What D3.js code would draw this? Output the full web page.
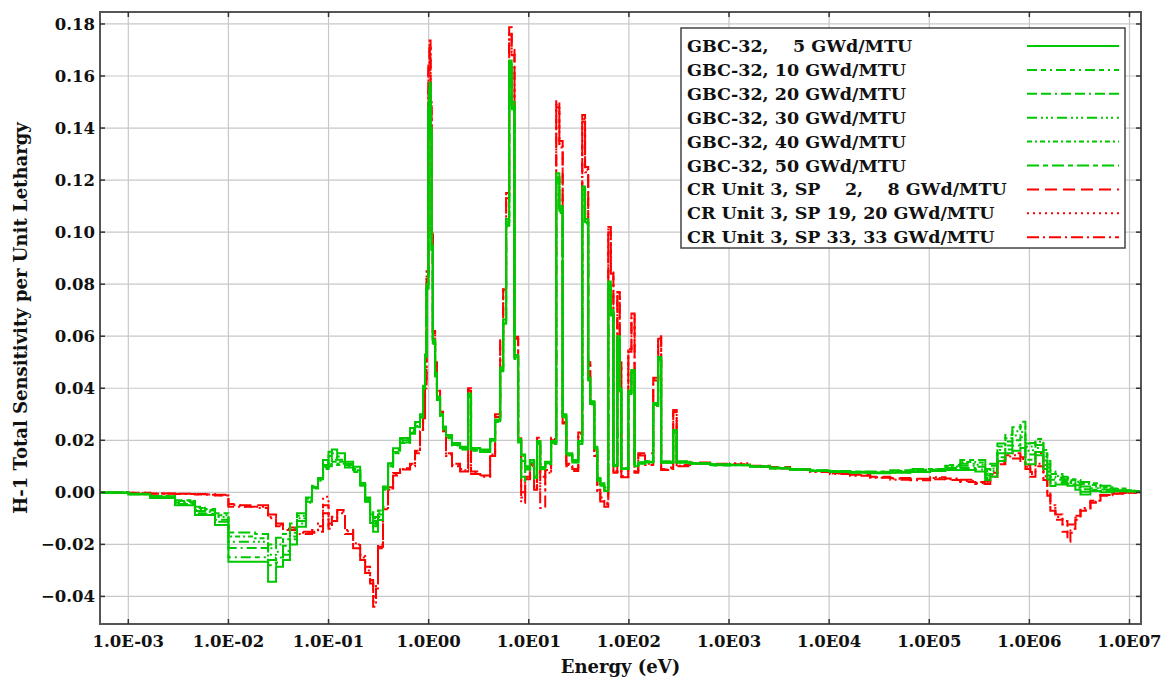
<!DOCTYPE html>
<html>
<head>
<meta charset="utf-8">
<script src="https://cdn.jsdelivr.net/npm/d3@7"></script>
<style>
  body { margin: 0; background: #ffffff; }
  svg text { font-family: "DejaVu Serif", serif; font-weight: bold; fill: #111; }
</style>
</head>
<body>
<svg id="chart" width="1164" height="681"></svg>
<script>
// Multigroup energy boundaries (eV), ascending; group i spans [groupEdges[i], groupEdges[i+1]]
const groupEdges = [
  1e-5, 1e-3, 1.65e-3, 2.93e-3, 4.63e-3, 5.83e-3, 7.35e-3,
  1.0e-2, 1.31e-2, 1.85e-2, 2.49e-2, 2.99e-2, 3.51e-2, 4.12e-2, 4.84e-2, 5.96e-2, 6.84e-2, 7.85e-2, 8.81e-2,
  0.1, 0.108, 0.122, 0.146, 0.176, 0.207, 0.232, 0.260, 0.279, 0.298, 0.312, 0.350, 0.393, 0.441, 0.518, 0.652, 0.731, 0.820, 0.879, 0.92, 0.953,
  0.993, 1.02, 1.045, 1.07, 1.1, 1.16, 1.21, 1.30, 1.39, 1.49, 1.71, 2.06, 2.48, 2.65, 3.27, 4.11, 4.61, 5.18, 5.55, 5.94, 6.37, 6.75, 7.2, 7.83, 8.39, 9.2,
  10.3, 11.3, 12.1, 13.0, 14.6, 16.7, 18.8, 20.2, 21.8, 23.7, 27.2, 31.2, 34.2, 36.5, 39.2, 41.1, 45.1, 48.3, 51.8, 56.8, 62.2, 66, 70, 76.6, 81, 84,
  98.6, 106, 114, 124, 145, 175, 196, 210, 247, 277, 300, 409, 648,
  1026, 1620, 2570, 4070, 6450, 1.02e4, 1.62e4, 2.57e4, 4.08e4, 6.46e4,
  1.02e5, 1.45e5, 2.04e5, 2.88e5, 3.63e5, 4.07e5, 4.79e5, 5.75e5, 6.76e5, 8.13e5, 9.12e5, 1.02e6, 1.15e6, 1.38e6, 1.51e6, 1.62e6, 1.82e6, 2.14e6, 2.40e6, 2.57e6, 2.88e6, 3.24e6, 4.07e6, 5.13e6, 6.76e6, 9.12e6, 1.15e7,
  2.0e7
];

// H-1 total sensitivity per unit lethargy, one value per group
const gbc5 = [
  -0.0002, -0.0008, -0.0022, -0.0050, -0.0087, -0.0087, -0.0126,
  -0.0267, -0.0267, -0.0267, -0.0344, -0.0286, -0.0260, -0.0200, -0.0132, -0.0036, 0.0020, 0.0055, 0.0124,
  0.0156, 0.0165, 0.0150, 0.0118, 0.0098, 0.0036, -0.0036, -0.0118, -0.0151, -0.0151, -0.0106, 0.0020, 0.0112, 0.0169, 0.0209, 0.0247, 0.0270, 0.0300, 0.0410, 0.0530, 0.0800,
  0.1500, 0.1575, 0.1400, 0.0950, 0.0586, 0.0460, 0.0368, 0.0300, 0.0253, 0.0220, 0.0190, 0.0175, 0.0380, 0.0170, 0.0165, 0.0205, 0.0280, 0.0480, 0.0664, 0.1050, 0.1660, 0.1500, 0.0528, 0.0205, 0.0145, 0.0100,
  0.0124, 0.0060, 0.0197, 0.0097, 0.0118, 0.0197, 0.1226, 0.1100, 0.0300, 0.0150, 0.0124, 0.0197, 0.1175, 0.1050, 0.0440, 0.0350, 0.0175, 0.0055, 0.0035, 0.0005, 0.0810, 0.0700, 0.0105, 0.0600, 0.0400, 0.0090,
  0.0390, 0.0470, 0.0100, 0.0110, 0.0115, 0.0343, 0.0520, 0.0114, 0.0114, 0.0240, 0.0114, 0.0112, 0.0108,
  0.0104, 0.0098, 0.0092, 0.0087, 0.0082, 0.0078, 0.0075, 0.0073, 0.0075, 0.0078,
  0.0082, 0.0086, 0.0086, 0.0080, 0.0047, 0.0060, 0.0120, 0.0150, 0.0160, 0.0170, 0.0108, 0.0108, 0.0143, 0.0090, 0.0050, 0.0024, 0.0030, 0.0030, 0.0025, 0.0025, 0.0010, -0.0008, 0.0005, 0.0000, 0.0004, 0.0003, 0.0003
];
const gbc10 = [
  -0.0002, -0.0007, -0.0020, -0.0045, -0.0080, -0.0082, -0.0113,
  -0.0249, -0.0249, -0.0249, -0.0280, -0.0270, -0.0240, -0.0180, -0.0120, -0.0040, 0.0015, 0.0050, 0.0115,
  0.0140, 0.0150, 0.0138, 0.0110, 0.0090, 0.0030, -0.0030, -0.0100, -0.0130, -0.0135, -0.0095, 0.0022, 0.0110, 0.0165, 0.0205, 0.0240, 0.0265, 0.0295, 0.0405, 0.0525, 0.0790,
  0.1490, 0.1565, 0.1390, 0.0945, 0.0580, 0.0455, 0.0365, 0.0298, 0.0250, 0.0218, 0.0188, 0.0172, 0.0375, 0.0168, 0.0162, 0.0202, 0.0278, 0.0475, 0.0660, 0.1040, 0.1650, 0.1490, 0.0525, 0.0200, 0.0140, 0.0098,
  0.0122, 0.0058, 0.0195, 0.0095, 0.0116, 0.0195, 0.1218, 0.1092, 0.0298, 0.0148, 0.0122, 0.0195, 0.1168, 0.1045, 0.0438, 0.0348, 0.0172, 0.0052, 0.0032, 0.0010, 0.0805, 0.0695, 0.0104, 0.0596, 0.0398, 0.0090,
  0.0388, 0.0468, 0.0102, 0.0112, 0.0116, 0.0340, 0.0518, 0.0115, 0.0115, 0.0238, 0.0115, 0.0112, 0.0107,
  0.0104, 0.0098, 0.0093, 0.0088, 0.0083, 0.0079, 0.0076, 0.0074, 0.0076, 0.0080,
  0.0084, 0.0090, 0.0094, 0.0088, 0.0055, 0.0070, 0.0135, 0.0165, 0.0180, 0.0190, 0.0125, 0.0125, 0.0155, 0.0105, 0.0065, 0.0035, 0.0038, 0.0036, 0.0032, 0.0030, 0.0018, 0.0002, 0.0010, 0.0005, 0.0006, 0.0004, 0.0003
];
const gbc20 = [
  -0.0001, -0.0006, -0.0018, -0.0040, -0.0072, -0.0075, -0.0105,
  -0.0214, -0.0214, -0.0214, -0.0260, -0.0250, -0.0225, -0.0170, -0.0110, -0.0035, 0.0018, 0.0045, 0.0105,
  0.0128, 0.0135, 0.0125, 0.0105, 0.0085, 0.0025, -0.0035, -0.0095, -0.0120, -0.0125, -0.0085, 0.0018, 0.0105, 0.0160, 0.0200, 0.0235, 0.0260, 0.0290, 0.0400, 0.0520, 0.0785,
  0.1480, 0.1555, 0.1385, 0.0940, 0.0578, 0.0452, 0.0362, 0.0295, 0.0248, 0.0215, 0.0185, 0.0170, 0.0372, 0.0165, 0.0160, 0.0200, 0.0275, 0.0472, 0.0655, 0.1035, 0.1645, 0.1485, 0.0520, 0.0198, 0.0120, 0.0095,
  0.0120, 0.0056, 0.0192, 0.0093, 0.0114, 0.0192, 0.1212, 0.1088, 0.0295, 0.0146, 0.0120, 0.0192, 0.1162, 0.1040, 0.0435, 0.0345, 0.0170, 0.0050, 0.0030, 0.0015, 0.0800, 0.0690, 0.0103, 0.0592, 0.0395, 0.0091,
  0.0385, 0.0465, 0.0104, 0.0113, 0.0117, 0.0338, 0.0515, 0.0116, 0.0116, 0.0236, 0.0116, 0.0111, 0.0106,
  0.0105, 0.0099, 0.0093, 0.0088, 0.0083, 0.0080, 0.0077, 0.0075, 0.0078, 0.0082,
  0.0086, 0.0094, 0.0102, 0.0098, 0.0065, 0.0082, 0.0150, 0.0180, 0.0200, 0.0212, 0.0145, 0.0145, 0.0170, 0.0122, 0.0080, 0.0048, 0.0048, 0.0044, 0.0040, 0.0036, 0.0027, 0.0012, 0.0016, 0.0011, 0.0008, 0.0005, 0.0003
];
const gbc30 = [
  -0.0001, -0.0006, -0.0016, -0.0036, -0.0067, -0.0070, -0.0095,
  -0.0190, -0.0190, -0.0190, -0.0240, -0.0228, -0.0205, -0.0155, -0.0100, -0.0030, 0.0020, 0.0048, 0.0100,
  0.0118, 0.0125, 0.0118, 0.0100, 0.0082, 0.0030, -0.0025, -0.0085, -0.0110, -0.0115, -0.0080, 0.0015, 0.0102, 0.0155, 0.0195, 0.0230, 0.0255, 0.0288, 0.0398, 0.0518, 0.0780,
  0.1470, 0.1548, 0.1380, 0.0935, 0.0575, 0.0450, 0.0360, 0.0292, 0.0245, 0.0212, 0.0183, 0.0168, 0.0370, 0.0163, 0.0158, 0.0198, 0.0272, 0.0470, 0.0652, 0.1030, 0.1640, 0.1480, 0.0518, 0.0195, 0.0090, 0.0092,
  0.0118, 0.0055, 0.0190, 0.0092, 0.0112, 0.0190, 0.1206, 0.1082, 0.0292, 0.0145, 0.0118, 0.0190, 0.1156, 0.1036, 0.0432, 0.0342, 0.0168, 0.0048, 0.0028, 0.0018, 0.0796, 0.0686, 0.0102, 0.0590, 0.0392, 0.0092,
  0.0382, 0.0462, 0.0105, 0.0114, 0.0118, 0.0336, 0.0512, 0.0117, 0.0117, 0.0234, 0.0117, 0.0111, 0.0105,
  0.0105, 0.0099, 0.0094, 0.0089, 0.0084, 0.0080, 0.0078, 0.0076, 0.0080, 0.0084,
  0.0087, 0.0098, 0.0110, 0.0106, 0.0072, 0.0092, 0.0163, 0.0195, 0.0218, 0.0232, 0.0160, 0.0162, 0.0182, 0.0138, 0.0095, 0.0060, 0.0056, 0.0050, 0.0046, 0.0042, 0.0035, 0.0022, 0.0022, 0.0016, 0.0011, 0.0006, 0.0004
];
const gbc40 = [
  -0.0001, -0.0005, -0.0015, -0.0033, -0.0060, -0.0068, -0.0088,
  -0.0170, -0.0170, -0.0176, -0.0215, -0.0200, -0.0180, -0.0138, -0.0090, -0.0025, 0.0022, 0.0050, 0.0095,
  0.0108, 0.0118, 0.0110, 0.0098, 0.0080, 0.0032, -0.0022, -0.0078, -0.0100, -0.0105, -0.0074, 0.0012, 0.0100, 0.0152, 0.0192, 0.0228, 0.0252, 0.0292, 0.0402, 0.0522, 0.0782,
  0.1465, 0.1542, 0.1375, 0.0930, 0.0572, 0.0448, 0.0358, 0.0290, 0.0243, 0.0210, 0.0182, 0.0166, 0.0368, 0.0162, 0.0156, 0.0196, 0.0270, 0.0468, 0.0650, 0.1028, 0.1636, 0.1476, 0.0515, 0.0192, 0.0060, 0.0090,
  0.0116, 0.0054, 0.0188, 0.0090, 0.0110, 0.0188, 0.1200, 0.1078, 0.0290, 0.0144, 0.0116, 0.0188, 0.1150, 0.1032, 0.0430, 0.0340, 0.0166, 0.0046, 0.0026, 0.0020, 0.0792, 0.0682, 0.0101, 0.0588, 0.0390, 0.0093,
  0.0380, 0.0460, 0.0106, 0.0115, 0.0119, 0.0334, 0.0510, 0.0118, 0.0118, 0.0232, 0.0118, 0.0110, 0.0104,
  0.0106, 0.0100, 0.0094, 0.0089, 0.0085, 0.0081, 0.0079, 0.0078, 0.0082, 0.0087,
  0.0088, 0.0102, 0.0117, 0.0115, 0.0082, 0.0102, 0.0176, 0.0208, 0.0235, 0.0252, 0.0175, 0.0176, 0.0194, 0.0150, 0.0108, 0.0070, 0.0063, 0.0055, 0.0050, 0.0046, 0.0041, 0.0032, 0.0028, 0.0020, 0.0013, 0.0007, 0.0004
];
const gbc50 = [
  -0.0001, -0.0005, -0.0014, -0.0030, -0.0055, -0.0064, -0.0080,
  -0.0154, -0.0154, -0.0160, -0.0200, -0.0175, -0.0160, -0.0120, -0.0080, -0.0020, 0.0025, 0.0052, 0.0090,
  0.0100, 0.0110, 0.0105, 0.0095, 0.0078, 0.0030, -0.0020, -0.0070, -0.0095, -0.0095, -0.0070, 0.0010, 0.0098, 0.0150, 0.0190, 0.0225, 0.0250, 0.0290, 0.0400, 0.0520, 0.0780,
  0.1460, 0.1535, 0.1370, 0.0925, 0.0570, 0.0445, 0.0355, 0.0288, 0.0240, 0.0208, 0.0180, 0.0165, 0.0365, 0.0160, 0.0155, 0.0195, 0.0268, 0.0465, 0.0648, 0.1025, 0.1632, 0.1472, 0.0512, 0.0190, 0.0045, 0.0088,
  0.0115, 0.0052, 0.0186, 0.0089, 0.0108, 0.0186, 0.1195, 0.1074, 0.0288, 0.0142, 0.0115, 0.0186, 0.1145, 0.1028, 0.0428, 0.0338, 0.0165, 0.0045, 0.0025, 0.0022, 0.0790, 0.0680, 0.0100, 0.0585, 0.0388, 0.0094,
  0.0378, 0.0458, 0.0107, 0.0116, 0.0120, 0.0332, 0.0508, 0.0119, 0.0119, 0.0230, 0.0119, 0.0110, 0.0103,
  0.0106, 0.0100, 0.0095, 0.0090, 0.0085, 0.0082, 0.0080, 0.0080, 0.0085, 0.0090,
  0.0090, 0.0105, 0.0124, 0.0124, 0.0090, 0.0110, 0.0188, 0.0220, 0.0250, 0.0271, 0.0188, 0.0190, 0.0205, 0.0163, 0.0120, 0.0080, 0.0070, 0.0060, 0.0055, 0.0050, 0.0047, 0.0040, 0.0035, 0.0025, 0.0015, 0.0008, 0.0004
];
const cr8 = [
  -0.0001, -0.0002, -0.0004, -0.0005, -0.0006, -0.0007, -0.0009,
  -0.0045, -0.0050, -0.0050, -0.0085, -0.0120, -0.0135, -0.0135, -0.0151, -0.0151, -0.0151, -0.0151, -0.0080,
  -0.0120, -0.0094, -0.0068, -0.0160, -0.0215, -0.0260, -0.0310, -0.0350, -0.0400, -0.0350, -0.0209, -0.0055, 0.0020, 0.0074, 0.0093, 0.0110, 0.0160, 0.0240, 0.0300, 0.0420, 0.0850,
  0.1650, 0.1736, 0.1500, 0.1000, 0.0620, 0.0500, 0.0390, 0.0310, 0.0240, 0.0150, 0.0110, 0.0090, 0.0400, 0.0080, 0.0065, 0.0150, 0.0300, 0.0590, 0.0790, 0.1150, 0.1787, 0.1700, 0.0598, 0.0220, 0.0000, 0.0060,
  0.0110, 0.0020, 0.0210, 0.0060, 0.0086, 0.0210, 0.1508, 0.1350, 0.0270, 0.0110, 0.0090, 0.0230, 0.1450, 0.1250, 0.0500, 0.0350, 0.0150, 0.0010, -0.0020, -0.0055, 0.1020, 0.0850, 0.0080, 0.0770, 0.0500, 0.0063,
  0.0550, 0.0687, 0.0080, 0.0150, 0.0150, 0.0440, 0.0600, 0.0090, 0.0095, 0.0316, 0.0105, 0.0115, 0.0110,
  0.0108, 0.0102, 0.0097, 0.0090, 0.0082, 0.0074, 0.0068, 0.0060, 0.0055, 0.0052,
  0.0050, 0.0047, 0.0040, 0.0032, 0.0032, 0.0060, 0.0108, 0.0130, 0.0130, 0.0120, 0.0090, 0.0060, 0.0100, 0.0047, -0.0013, -0.0071, -0.0105, -0.0151, -0.0190, -0.0155, -0.0105, -0.0071, -0.0040, -0.0013, -0.0005, -0.0002, 0.0000
];
const cr20 = [
  -0.0001, -0.0002, -0.0004, -0.0006, -0.0007, -0.0008, -0.0011,
  -0.0050, -0.0055, -0.0055, -0.0095, -0.0125, -0.0140, -0.0140, -0.0155, -0.0155, -0.0145, -0.0120, -0.0017,
  -0.0130, -0.0100, -0.0075, -0.0150, -0.0200, -0.0250, -0.0300, -0.0340, -0.0420, -0.0360, -0.0200, -0.0060, 0.0015, 0.0070, 0.0090, 0.0105, 0.0155, 0.0235, 0.0290, 0.0410, 0.0840,
  0.1630, 0.1720, 0.1490, 0.0995, 0.0615, 0.0495, 0.0385, 0.0305, 0.0235, 0.0145, 0.0105, 0.0085, 0.0395, 0.0075, 0.0062, 0.0145, 0.0295, 0.0585, 0.0785, 0.1140, 0.1770, 0.1690, 0.0595, 0.0215, -0.0020, 0.0055,
  0.0105, 0.0015, 0.0205, 0.0010, 0.0080, 0.0205, 0.1490, 0.1335, 0.0268, 0.0105, 0.0086, 0.0225, 0.1435, 0.1240, 0.0495, 0.0345, 0.0145, 0.0005, -0.0028, -0.0045, 0.1010, 0.0845, 0.0078, 0.0765, 0.0495, 0.0060,
  0.0545, 0.0680, 0.0078, 0.0146, 0.0110, 0.0435, 0.0595, 0.0088, 0.0092, 0.0312, 0.0102, 0.0112, 0.0108,
  0.0112, 0.0100, 0.0094, 0.0088, 0.0080, 0.0072, 0.0066, 0.0058, 0.0052, 0.0050,
  0.0055, 0.0050, 0.0044, 0.0036, 0.0040, 0.0068, 0.0115, 0.0138, 0.0143, 0.0128, 0.0098, 0.0070, 0.0110, 0.0055, -0.0005, -0.0060, -0.0095, -0.0124, -0.0155, -0.0140, -0.0098, -0.0066, -0.0036, -0.0011, -0.0004, -0.0002, 0.0000
];
const cr33 = [
  -0.0001, -0.0003, -0.0005, -0.0006, -0.0008, -0.0009, -0.0012,
  -0.0055, -0.0055, -0.0060, -0.0100, -0.0130, -0.0145, -0.0145, -0.0160, -0.0160, -0.0155, -0.0130, -0.0050,
  -0.0140, -0.0110, -0.0080, -0.0145, -0.0196, -0.0240, -0.0286, -0.0337, -0.0440, -0.0370, -0.0215, -0.0065, 0.0010, 0.0065, 0.0088, 0.0100, 0.0150, 0.0230, 0.0285, 0.0400, 0.0830,
  0.1620, 0.1710, 0.1485, 0.0990, 0.0610, 0.0490, 0.0380, 0.0300, 0.0230, 0.0140, 0.0100, 0.0080, 0.0390, 0.0070, 0.0060, 0.0140, 0.0290, 0.0580, 0.0780, 0.1130, 0.1760, 0.1680, 0.0590, 0.0210, -0.0040, 0.0050,
  0.0100, 0.0010, 0.0200, -0.0060, 0.0075, 0.0200, 0.1480, 0.1325, 0.0265, 0.0100, 0.0082, 0.0220, 0.1425, 0.1230, 0.0490, 0.0340, 0.0140, 0.0000, -0.0035, -0.0040, 0.1000, 0.0840, 0.0075, 0.0760, 0.0490, 0.0058,
  0.0540, 0.0675, 0.0075, 0.0142, 0.0105, 0.0430, 0.0590, 0.0086, 0.0090, 0.0308, 0.0100, 0.0110, 0.0106,
  0.0106, 0.0098, 0.0092, 0.0086, 0.0078, 0.0070, 0.0064, 0.0056, 0.0048, 0.0046,
  0.0058, 0.0053, 0.0048, 0.0040, 0.0045, 0.0075, 0.0122, 0.0143, 0.0150, 0.0135, 0.0105, 0.0078, 0.0151, 0.0062, 0.0002, -0.0050, -0.0085, -0.0110, -0.0124, -0.0124, -0.0090, -0.0060, -0.0032, -0.0010, -0.0003, -0.0001, 0.0000
];

const seriesLabels = [
  "GBC-32, \u2007 5 GWd/MTU",
  "GBC-32, 10 GWd/MTU",
  "GBC-32, 20 GWd/MTU",
  "GBC-32, 30 GWd/MTU",
  "GBC-32, 40 GWd/MTU",
  "GBC-32, 50 GWd/MTU",
  "CR Unit 3, SP \u2007 2, \u2007 8 GWd/MTU",
  "CR Unit 3, SP 19, 20 GWd/MTU",
  "CR Unit 3, SP 33, 33 GWd/MTU"
];

const xTickValues = [1e-3, 1e-2, 1e-1, 1e0, 1e1, 1e2, 1e3, 1e4, 1e5, 1e6, 1e7];
const xTickLabels = ["1.0E-03", "1.0E-02", "1.0E-01", "1.0E00", "1.0E01", "1.0E02", "1.0E03", "1.0E04", "1.0E05", "1.0E06", "1.0E07"];
const yTickValues = [-0.04, -0.02, 0.00, 0.02, 0.04, 0.06, 0.08, 0.10, 0.12, 0.14, 0.16, 0.18];
const yTickLabels = ["\u22120.04", "\u22120.02", "0.00", "0.02", "0.04", "0.06", "0.08", "0.10", "0.12", "0.14", "0.16", "0.18"];

// ---- layout ----
const plot = { left: 100, top: 12, right: 1141, bottom: 624 };
const GREEN = "#00c800", RED = "#ff0000";
const styles = [
  { color: GREEN, dash: null },
  { color: GREEN, dash: "10,4,5,4,2,4" },
  { color: GREEN, dash: "10,4,10,4,2,4" },
  { color: GREEN, dash: "10,4,2,3,2,3,2,4" },
  { color: GREEN, dash: "5,3,2,3" },
  { color: GREEN, dash: "12,4,5,4" },
  { color: RED, dash: "12,6" },
  { color: RED, dash: "2,4" },
  { color: RED, dash: "12,4,2,4" }
];
const seriesValues = [gbc5, gbc10, gbc20, gbc30, gbc40, gbc50, cr8, cr20, cr33];

const svg = d3.select("#chart");

const x = d3.scaleLog()
  .domain([Math.pow(10, -3.2827), Math.pow(10, 7.1149)])
  .range([plot.left, plot.right]);
const y = d3.scaleLinear()
  .domain([-0.0506, 0.1846])
  .range([plot.bottom, plot.top]);

// grid
const grid = svg.append("g").attr("stroke", "#c8c8c8").attr("stroke-width", 1.2);
grid.selectAll("line.gx").data(xTickValues).join("line")
  .attr("x1", d => x(d)).attr("x2", d => x(d))
  .attr("y1", plot.top).attr("y2", plot.bottom);
grid.selectAll("line.gy").data(yTickValues).join("line")
  .attr("x1", plot.left).attr("x2", plot.right)
  .attr("y1", d => y(d)).attr("y2", d => y(d));

// data lines
svg.append("defs").append("clipPath").attr("id", "plotClip")
  .append("rect")
  .attr("x", plot.left).attr("y", plot.top)
  .attr("width", plot.right - plot.left).attr("height", plot.bottom - plot.top);

const line = d3.line()
  .x(d => x(d[0]))
  .y(d => y(d[1]))
  .curve(d3.curveStepAfter);

function stepPoints(values) {
  const n = Math.min(values.length, groupEdges.length - 1);
  const pts = [];
  for (let i = 0; i < n; i++) pts.push([groupEdges[i], values[i]]);
  pts.push([groupEdges[n], values[n - 1]]);
  return pts;
}

const lines = svg.append("g").attr("clip-path", "url(#plotClip)");
// red (CR Unit 3) curves underneath, GBC-32 curves on top
const drawOrder = [6, 7, 8, 0, 1, 2, 3, 4, 5];
drawOrder.forEach(i => {
  lines.append("path")
    .attr("d", line(stepPoints(seriesValues[i])))
    .attr("fill", "none")
    .attr("stroke", styles[i].color)
    .attr("stroke-width", 2)
    .attr("stroke-dasharray", styles[i].dash)
    .attr("stroke-linejoin", "miter");
});

// frame
svg.append("rect")
  .attr("x", plot.left).attr("y", plot.top)
  .attr("width", plot.right - plot.left).attr("height", plot.bottom - plot.top)
  .attr("fill", "none").attr("stroke", "#555").attr("stroke-width", 2);

// inward ticks on all four sides
const tickLen = 5;
const axisAll = svg.append("g").attr("stroke", "#333").attr("stroke-width", 1.5);
xTickValues.forEach(v => {
  axisAll.append("line").attr("x1", x(v)).attr("x2", x(v)).attr("y1", plot.bottom).attr("y2", plot.bottom - tickLen);
  axisAll.append("line").attr("x1", x(v)).attr("x2", x(v)).attr("y1", plot.top).attr("y2", plot.top + tickLen);
});
yTickValues.forEach(v => {
  axisAll.append("line").attr("x1", plot.left).attr("x2", plot.left + tickLen).attr("y1", y(v)).attr("y2", y(v));
  axisAll.append("line").attr("x1", plot.right).attr("x2", plot.right - tickLen).attr("y1", y(v)).attr("y2", y(v));
});

// tick labels
svg.append("g").selectAll("text").data(xTickValues).join("text")
  .attr("x", d => x(d)).attr("y", 647)
  .attr("text-anchor", "middle")
  .style("font-size", "16.5px")
  .text((d, i) => xTickLabels[i]);
svg.append("g").selectAll("text").data(yTickValues).join("text")
  .attr("x", 95).attr("y", d => y(d)).attr("dy", "0.36em")
  .attr("text-anchor", "end")
  .style("font-size", "16.5px")
  .text((d, i) => yTickLabels[i]);

// axis titles
svg.append("text")
  .attr("x", (plot.left + plot.right) / 2).attr("y", 673)
  .attr("text-anchor", "middle")
  .style("font-size", "18px")
  .text("Energy (eV)");
svg.append("text")
  .attr("transform", `translate(27,${(plot.top + plot.bottom) / 2}) rotate(-90)`)
  .attr("text-anchor", "middle")
  .style("font-size", "18px")
  .text("H-1 Total Sensitivity per Unit Lethargy");

// legend
const legend = svg.append("g");
legend.append("rect")
  .attr("x", 681).attr("y", 28).attr("width", 444).attr("height", 220)
  .attr("fill", "#fff").attr("stroke", "#444").attr("stroke-width", 1.5);
seriesLabels.forEach((label, i) => {
  const by = 52 + i * 23.9;
  legend.append("text")
    .attr("x", 687).attr("y", by)
    .style("font-size", "17.5px")
    .style("white-space", "pre")
    .attr("xml:space", "preserve")
    .text(label);
  legend.append("line")
    .attr("x1", 1027).attr("x2", 1119)
    .attr("y1", by - 6).attr("y2", by - 6)
    .attr("stroke", styles[i].color)
    .attr("stroke-width", 2)
    .attr("stroke-dasharray", styles[i].dash);
});
</script>
</body>
</html>
